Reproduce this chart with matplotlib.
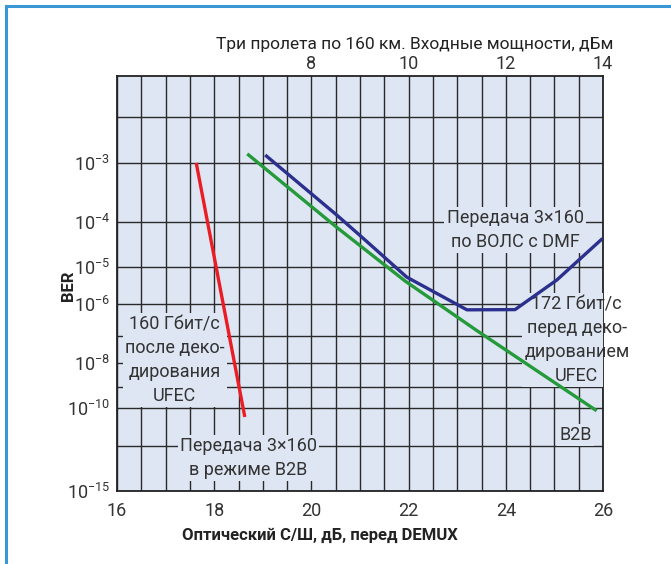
import numpy as np
import matplotlib
matplotlib.use('Agg')
import matplotlib.pyplot as plt
from matplotlib.lines import Line2D
from matplotlib.ticker import MultipleLocator, FixedLocator, NullFormatter

plt.rcParams['font.family'] = ['Roboto', 'DejaVu Sans']
plt.rcParams['mathtext.fontset'] = 'custom'
plt.rcParams['mathtext.rm'] = 'Roboto'

# OSNR (dB) vs BER
osnr_red = [17.63, 18.63]
ber_red = [1.0e-3, 3.7e-11]

osnr_green = [18.68, 20.52, 21.93, 23.40, 25.87]
ber_green = [1.35e-3, 7.7e-5, 4.4e-6, 1.5e-7, 7.6e-11]

osnr_blue = [19.05, 20.52, 21.03, 21.96, 23.20, 24.19, 25.05, 25.99]
ber_blue = [1.3e-3, 1.34e-4, 4.9e-5, 5.6e-6, 6.8e-7, 6.9e-7, 4.7e-6, 4.5e-5]

ber_ticks = [1e-3, 1e-4, 1e-5, 1e-6, 1e-8, 1e-10, 1e-15]
ber_labels = ['10$^{\\mathregular{-3}}$', '10$^{\\mathregular{-4}}$', '10$^{\\mathregular{-5}}$',
              '10$^{\\mathregular{-6}}$', '10$^{\\mathregular{-8}}$', '10$^{\\mathregular{-10}}$',
              '10$^{\\mathregular{-15}}$']
ber_extra_grid = [4e-3, 1e-7, 1e-9, 1e-12]
osnr_ticks = [16, 18, 20, 22, 24, 26]
power_ticks = [8, 10, 12, 14]

bg = '#dfe6f3'
txt = '#333333'


# BER axis: straight lines for log(-log(BER))
def fwd(b):
    b = np.clip(np.asarray(b, dtype=float), 1e-300, 0.999)
    return -np.log10(-np.log10(b))


def inv(y):
    y = np.clip(np.asarray(y, dtype=float), -2.0, 2.0)
    return 10.0 ** (-(10.0 ** (-y)))


fig = plt.figure(figsize=(6.71, 5.64), dpi=100)
ax = fig.add_axes([117 / 671, 1 - 491 / 564, 486 / 671, 415 / 564])
ax.set_facecolor(bg)
ax.set_yscale('function', functions=(fwd, inv))
ax.set_xlim(16, 26)
ax.set_ylim(1e-15, 1.1e-2)

ax.xaxis.set_major_locator(FixedLocator(osnr_ticks))
ax.xaxis.set_minor_locator(MultipleLocator(0.5))
ax.yaxis.set_major_locator(FixedLocator(ber_ticks))
ax.set_yticklabels(ber_labels)
ax.yaxis.set_minor_locator(FixedLocator(ber_extra_grid))
ax.yaxis.set_minor_formatter(NullFormatter())
ax.tick_params(which='both', length=0, labelsize=13, colors=txt)
ax.tick_params(axis='x', pad=8)
ax.tick_params(axis='y', pad=5)
ax.set_axisbelow(True)
ax.grid(which='both', color='#2a2a2a', lw=1.0)
for s in ax.spines.values():
    s.set_linewidth(1.3)
    s.set_color('#222222')

ax.plot(osnr_red, ber_red, color='#ec1c24', lw=2.4, zorder=4, solid_capstyle='butt')
ax.plot(osnr_green, ber_green, color='#259a3a', lw=2.4, zorder=4, solid_capstyle='butt')
ax.plot(osnr_blue, ber_blue, color='#2b2f8e', lw=2.4, zorder=4, solid_capstyle='butt')

sec = ax.secondary_xaxis('top', functions=(lambda x: x - 12, lambda x: x + 12))
sec.set_xticks(power_ticks)
sec.tick_params(length=0, labelsize=13, colors=txt, pad=2)
sec.spines['top'].set_visible(False)


def note(x, y, s):
    # background box clipped to the plot, text itself not clipped
    ax.text(x, y, s, transform=ax.transAxes, ha='center', va='center', fontsize=13,
            linespacing=1.42, color='none', clip_on=True, zorder=3,
            bbox=dict(fc=bg, ec='none', pad=1.5))
    ax.text(x, y, s, transform=ax.transAxes, ha='center', va='center', fontsize=13,
            linespacing=1.42, color=txt, zorder=3.1)


note(0.119, 0.316, '160 Гбит/с\nпосле деко-\nдирования\nUFEC')
note(0.270, 0.080, 'Передача 3×160\nв режиме B2B')
note(0.819, 0.629, 'Передача 3×160\nпо ВОЛС с DMF')
note(0.946, 0.364, '172 Гбит/с\nперед деко-\nдированием\nUFEC')
note(0.944, 0.135, 'B2B')

fig.text(415 / 671, 1 - 45 / 564, 'Три пролета по 160 км. Входные мощности, дБм',
         ha='center', va='center', fontsize=12.5, color='#222222')
fig.text(320 / 671, 1 - 535 / 564, 'Оптический С/Ш, дБ, перед DEMUX',
         ha='center', va='center', fontsize=12, fontweight='bold', color='#222222')
fig.text(69 / 671, 1 - 286 / 564, 'BER', rotation=90, ha='center', va='center',
         fontsize=12, fontweight='bold', color='#222222')

# blue frame on the top and left edges
fig.add_artist(Line2D([6 / 671, 1], [1 - 6 / 564, 1 - 6 / 564], color='#3b96d6', lw=2.2,
                      transform=fig.transFigure))
fig.add_artist(Line2D([6 / 671, 6 / 671], [0, 1 - 6 / 564], color='#3b96d6', lw=2.2,
                      transform=fig.transFigure))

fig.savefig('out.png', dpi=100)
